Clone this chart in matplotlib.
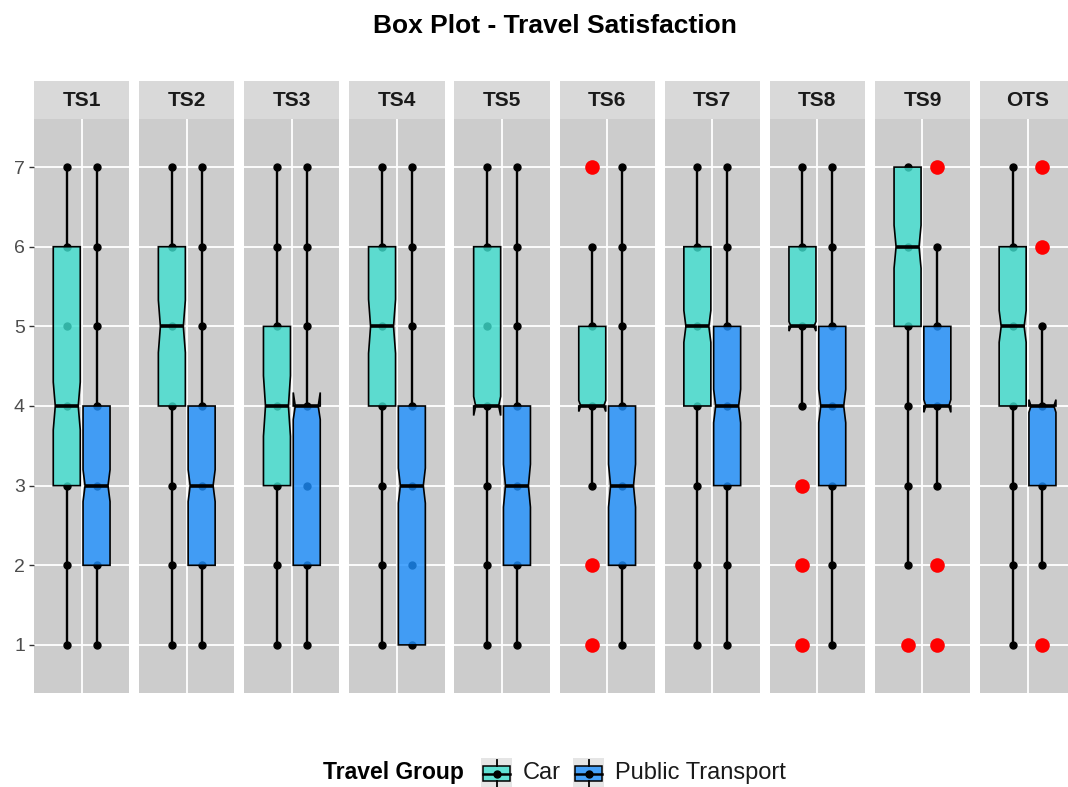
import numpy as np
import matplotlib
matplotlib.use("Agg")
import matplotlib.pyplot as plt
from matplotlib.patches import Polygon, Rectangle
from matplotlib.colors import to_rgba

plt.rcParams['font.family'] = ['Liberation Sans', 'DejaVu Sans']

# Satisfaction items (one facet each)
items = ["TS1", "TS2", "TS3", "TS4", "TS5", "TS6", "TS7", "TS8", "TS9", "OTS"]

# Car group: whisker ends, hinges, median, notch half-width, outliers
car_lo = [1, 1, 1, 1, 1, 3, 1, 4, 2, 1]
car_q1 = [3, 4, 3, 4, 4, 4, 4, 5, 5, 4]
car_med = [4, 5, 4, 5, 4, 4, 5, 5, 6, 5]
car_q3 = [6, 6, 5, 6, 6, 5, 6, 6, 7, 6]
car_hi = [7, 7, 7, 7, 7, 6, 7, 7, 7, 7]
car_notch = [0.30, 0.33, 0.38, 0.34, 0.12, 0.07, 0.20, 0.06, 0.27, 0.20]
car_out = [[], [], [], [], [], [7, 2, 1], [], [3, 2, 1], [1], []]

# Public transport group
pt_lo = [1, 1, 1, 1, 1, 1, 1, 1, 3, 2]
pt_q1 = [2, 2, 2, 1, 2, 2, 3, 3, 4, 3]
pt_med = [3, 3, 4, 3, 3, 3, 4, 4, 4, 4]
pt_q3 = [4, 4, 4, 4, 4, 4, 5, 5, 5, 4]
pt_hi = [7, 7, 7, 7, 7, 7, 7, 7, 6, 5]
pt_notch = [0.20, 0.20, 0.17, 0.22, 0.27, 0.27, 0.21, 0.21, 0.08, 0.08]
pt_out = [[], [], [], [], [], [], [], [], [7, 2, 1], [7, 6, 1]]

groups = ["Car", "Public Transport"]
fills = {"Car": "#40E0D0", "Public Transport": "#1E90FF"}
offsets = {"Car": -0.1875, "Public Transport": 0.1875}
box_w = 0.34
notch_frac = 0.85
fill_alpha = 0.8

W, H = 1068, 787
fig = plt.figure(figsize=(W / 100, H / 100), dpi=100)


def px(x0, y0, w, h):
    # pixel box (top-left origin) -> figure fraction rect
    return [x0 / W, 1 - (y0 + h) / H, w / W, h / H]


def draw_box(ax, x, lo, q1, med, q3, hi, notch, outs, color):
    xmin, xmax = x - box_w / 2, x + box_w / 2
    ind = (1 - notch_frac) / 2 * box_w
    nl, nu = med - notch, med + notch
    # raw responses at each level inside the whisker range
    levels = np.arange(lo, hi + 1)
    ax.plot(np.full(len(levels), x), levels, "o", color="black", ms=5, zorder=2)
    # whiskers
    ax.plot([x, x], [q3, hi], color="black", lw=1.7, zorder=3, solid_capstyle="butt")
    ax.plot([x, x], [lo, q1], color="black", lw=1.7, zorder=3, solid_capstyle="butt")
    xs = [xmin, xmin, xmin + ind, xmin, xmin, xmax, xmax, xmax - ind, xmax, xmax]
    ys = [q3, nu, med, nl, q1, q1, nl, med, nu, q3]
    ax.add_patch(Polygon(np.column_stack([xs, ys]), closed=True,
                         facecolor=to_rgba(color, fill_alpha), edgecolor="black",
                         lw=1.2, joinstyle="miter", zorder=4))
    ax.plot([xmin + ind, xmax - ind], [med, med], color="black", lw=2.6,
            zorder=5, solid_capstyle="butt")
    if outs:
        ax.plot(np.full(len(outs), x), outs, "o", color="red", ms=10.5,
                mec="none", zorder=6)


panel_left, pitch, panel_w = 34, 105.1, 95.3
strip_top, strip_h, panel_top, panel_h = 81, 38.3, 119.3, 573.4

for i, name in enumerate(items):
    x0 = panel_left + i * pitch
    ax = fig.add_axes(px(x0, panel_top, panel_w, panel_h))
    ax.set_facecolor("#CCCCCC")
    ax.set_xlim(-0.6, 0.6)
    ax.set_ylim(0.40, 7.60)
    ax.set_xticks([0])
    ax.set_yticks(range(1, 8))
    ax.grid(True, color="white", lw=1.3)
    ax.set_axisbelow(True)
    for s in ax.spines.values():
        s.set_visible(False)
    ax.tick_params(axis="x", length=0, labelbottom=False)
    if i == 0:
        ax.tick_params(axis="y", length=3.5, width=1, color="#333333",
                       labelsize=14, labelcolor="#4D4D4D", pad=3)
    else:
        ax.tick_params(axis="y", length=0, labelleft=False)

    draw_box(ax, offsets["Car"], car_lo[i], car_q1[i], car_med[i], car_q3[i],
             car_hi[i], car_notch[i], car_out[i], fills["Car"])
    draw_box(ax, offsets["Public Transport"], pt_lo[i], pt_q1[i], pt_med[i],
             pt_q3[i], pt_hi[i], pt_notch[i], pt_out[i], fills["Public Transport"])

    # facet strip
    sax = fig.add_axes(px(x0, strip_top, panel_w, strip_h))
    sax.set_facecolor("#D9D9D9")
    sax.set_xticks([])
    sax.set_yticks([])
    for s in sax.spines.values():
        s.set_visible(False)
    sax.text(0.5, 0.5, name, ha="center", va="center", fontsize=15,
             fontweight="bold", color="#1A1A1A", transform=sax.transAxes)

fig.text(554.5 / W, 1 - 26 / H, "Box Plot - Travel Satisfaction", ha="center",
         va="center", fontsize=19, fontweight="bold")

# legend
leg_y = 773
fig.text(323 / W, 1 - leg_y / H, "Travel Group", ha="left", va="center",
         fontsize=16.5, fontweight="bold")
key_pos = {"Car": 481, "Public Transport": 573}
for g in groups:
    kx = key_pos[g]
    kax = fig.add_axes(px(kx, leg_y - 15, 31, 31))
    kax.set_xlim(0, 1)
    kax.set_ylim(0, 1)
    kax.set_facecolor("#E5E5E5")
    kax.set_xticks([])
    kax.set_yticks([])
    for s in kax.spines.values():
        s.set_visible(False)
    kax.plot([0.5, 0.5], [0.08, 0.25], color="black", lw=1.3)
    kax.plot([0.5, 0.5], [0.75, 0.92], color="black", lw=1.3)
    kax.plot([0.5], [0.5], "o", color="black", ms=5)
    kax.add_patch(Rectangle((0.08, 0.25), 0.84, 0.5, facecolor=to_rgba(fills[g], fill_alpha),
                            edgecolor="black", lw=1.1))
    kax.plot([0.08, 0.92], [0.5, 0.5], color="black", lw=1.8)
    fig.text((kx + 42) / W, 1 - leg_y / H, g, ha="left", va="center",
             fontsize=17, color="#1A1A1A")

fig.savefig("out.png", dpi=100, facecolor="white")
